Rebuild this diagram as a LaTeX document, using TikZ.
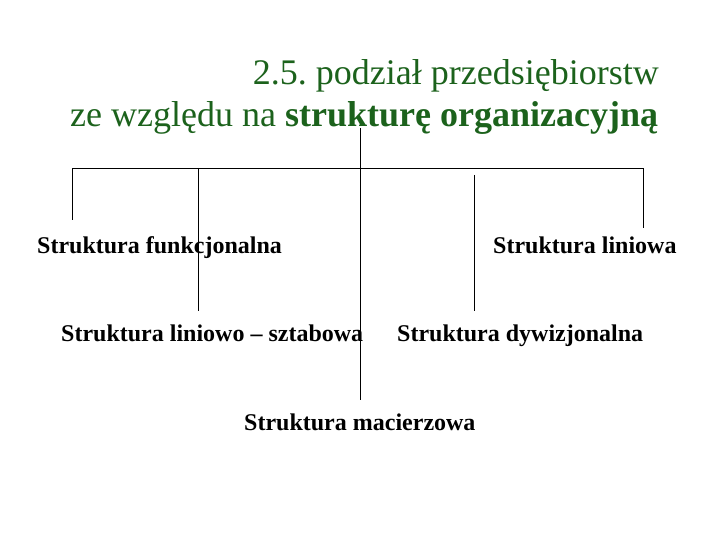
\documentclass[tikz,border=0pt]{standalone}
\usepackage{fontspec}
\setmainfont{Liberation Serif}
\definecolor{titlegreen}{RGB}{28,98,28}
\frenchspacing
\begin{document}
\begin{tikzpicture}[x=1pt,y=-1pt,
  lbl/.style={font=\fontsize{24}{28}\selectfont\bfseries, inner sep=0pt, anchor=base west},
  ttl/.style={font=\fontsize{36}{40}\selectfont, text=titlegreen, inner sep=0pt},
  conn/.style={draw=black, line width=0.9pt}]
\useasboundingbox (0,0) rectangle (720,540);
\node[ttl, anchor=base east] (t1) at (659,85) {2.5. podział przedsiębiorstw};
\node[ttl, anchor=base west] (t2) at (70,127) {ze względu na \textbf{strukturę organizacyjną}};
\node[lbl] (f) at (37,254) {Struktura funkcjonalna};
\node[lbl] (l) at (493,254) {Struktura liniowa};
\node[lbl] (ls) at (61,341) {Struktura liniowo – sztabowa};
\node[lbl] (d) at (397,341) {Struktura dywizjonalna};
\node[lbl] (m) at (244,430) {Struktura macierzowa};
\coordinate (top) at (360,128);
\coordinate (hl) at (72,168);
\coordinate (hr) at (643,168);
\coordinate (fe) at (72,220);
\coordinate (lse0) at (198,168);
\coordinate (lse) at (198,311);
\coordinate (de0) at (474,175);
\coordinate (de) at (474,311);
\coordinate (le) at (643,228);
\coordinate (me) at (360,400);
\draw[conn] (top) -- (me);
\draw[conn] (fe) -- (hl) -- (hr) -- (le);
\draw[conn] (lse0) -- (lse);
\draw[conn] (de0) -- (de);
\end{tikzpicture}
\end{document}
